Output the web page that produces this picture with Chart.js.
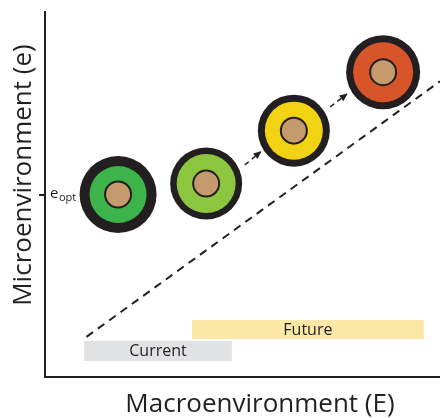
<!DOCTYPE html>
<html>
<head>
<meta charset="utf-8">
<script src="https://cdn.jsdelivr.net/npm/chart.js@4.4.1/dist/chart.umd.min.js"></script>
<style>
  body { margin: 0; background: #fff; }
</style>
</head>
<body>
<canvas id="nicheChart" width="440" height="418"></canvas>
<script>
// Position of the organism in macro (E) vs micro (e) environment space
const stageX = [1.85, 4.08, 6.30, 8.56];
const stageY = [5.0, 5.30, 6.75, 8.35];
const stageColors = ['#3cb44b', '#8cc63f', '#f2d314', '#d8552a'];

// optimum microenvironment, the only tick on the y axis
const eOpt = 5.0;

// dashed e = E style reference line
const refX = [1.05, 10];
const refY = [1.1, 8.1];

// small arrows between the circles
const arrowAX = [5.06, 5.46];
const arrowAY = [5.81, 6.17];
const arrowBX = [7.22, 7.64];
const arrowBY = [7.40, 7.75];

// current and future ranges of the macroenvironment
const rangeNames = ['Current', 'Future'];
const rangeFrom = [0.99, 3.72];
const rangeTo = [4.73, 9.59];
const rangeLow = [0.44, 1.04];
const rangeHigh = [0.99, 1.56];

const ink = '#231f20';
const font = '"Open Sans", sans-serif';
const rangeColors = ['#e1e2e4', '#fce8a6'];

function pts(xs, ys) {
    return xs.map((v, i) => ({ x: v, y: ys[i] }));
}

// draws the range boxes, arrow heads and the axis titles
const extras = {
    id: 'extras',
    beforeDatasetsDraw(chart) {
        const ctx = chart.ctx;
        const x = chart.scales.x, y = chart.scales.y;
        rangeNames.forEach((name, i) => {
            const x0 = x.getPixelForValue(rangeFrom[i]);
            const x1 = x.getPixelForValue(rangeTo[i]);
            const y0 = y.getPixelForValue(rangeHigh[i]);
            const y1 = y.getPixelForValue(rangeLow[i]);
            ctx.save();
            ctx.fillStyle = rangeColors[i];
            ctx.fillRect(x0, y0, x1 - x0, y1 - y0);
            ctx.fillStyle = ink;
            ctx.font = '16px ' + font;
            ctx.textAlign = 'center';
            ctx.textBaseline = 'middle';
            ctx.fillText(name, (x0 + x1) / 2, (y0 + y1) / 2 + 1);
            ctx.restore();
        });
    },
    afterDatasetsDraw(chart) {
        const ctx = chart.ctx;
        chart.data.datasets.forEach((ds, i) => {
            if (!ds.arrow) return;
            const p = chart.getDatasetMeta(i).data;
            const a = p[p.length - 2], b = p[p.length - 1];
            const ang = Math.atan2(b.y - a.y, b.x - a.x);
            ctx.save();
            ctx.translate(b.x, b.y);
            ctx.rotate(ang);
            ctx.fillStyle = ink;
            ctx.beginPath();
            ctx.moveTo(1, 0);
            ctx.lineTo(-7, -3.5);
            ctx.lineTo(-7, 3.5);
            ctx.closePath();
            ctx.fill();
            ctx.restore();
        });
    },
    afterDraw(chart) {
        const ctx = chart.ctx;
        const y = chart.scales.y;
        ctx.save();
        ctx.fillStyle = ink;
        ctx.textBaseline = 'alphabetic';
        // e_opt label next to its tick
        const ty = y.getPixelForValue(eOpt);
        ctx.textAlign = 'left';
        ctx.font = '15px ' + font;
        ctx.fillText('e', 50, ty + 3);
        ctx.font = '11px ' + font;
        ctx.fillText('opt', 59, ty + 6);
        // axis titles
        ctx.font = '26px ' + font;
        ctx.textAlign = 'center';
        ctx.fillText('Macroenvironment (E)', 260, 412);
        ctx.translate(31, 175);
        ctx.rotate(-Math.PI / 2);
        ctx.fillText('Microenvironment (e)', 0, 0);
        ctx.restore();
    }
};

const ctx = document.getElementById('nicheChart').getContext('2d');
const myChart = new Chart(ctx, {
    type: 'scatter',
    data: {
        datasets: [
            {
                data: pts(refX, refY),
                showLine: true,
                borderColor: ink,
                borderWidth: 2,
                borderDash: [8, 6],
                pointRadius: 0,
                order: 5
            },
            {
                data: pts(arrowAX, arrowAY),
                showLine: true,
                arrow: true,
                borderColor: ink,
                borderWidth: 1.5,
                borderDash: [5, 4],
                pointRadius: 0,
                order: 4
            },
            {
                data: pts(arrowBX, arrowBY),
                showLine: true,
                arrow: true,
                borderColor: ink,
                borderWidth: 1.5,
                borderDash: [5, 4],
                pointRadius: 0,
                order: 4
            },
            {
                // black outer ring
                data: pts(stageX, stageY),
                pointRadius: [38.5, 36, 36, 37],
                pointBackgroundColor: ink,
                pointBorderWidth: 0,
                order: 3
            },
            {
                // coloured ring
                data: pts(stageX, stageY),
                pointRadius: [28.5, 29.5, 29, 30],
                pointBackgroundColor: stageColors,
                pointBorderWidth: 0,
                order: 2
            },
            {
                // tan core
                data: pts(stageX, stageY),
                pointRadius: 13,
                pointBackgroundColor: '#c59b6d',
                pointBorderColor: ink,
                pointBorderWidth: 2,
                order: 1
            }
        ]
    },
    options: {
        responsive: false,
        animation: false,
        events: [],
        layout: { autoPadding: false, padding: { top: 12, left: 0, right: 0, bottom: 0 } },
        plugins: {
            legend: { display: false },
            tooltip: { enabled: false }
        },
        scales: {
            x: {
                min: 0,
                max: 10,
                ticks: { display: false },
                grid: { display: false },
                border: { display: true, color: ink, width: 2 },
                afterFit: s => { s.height = 41; }
            },
            y: {
                min: 0,
                max: 10,
                ticks: { display: false },
                afterBuildTicks: s => { s.ticks = [{ value: eOpt }]; },
                grid: {
                    display: true,
                    drawOnChartArea: false,
                    drawTicks: true,
                    tickLength: 6,
                    color: ink,
                    lineWidth: 2
                },
                border: { display: true, color: ink, width: 2 },
                afterFit: s => { s.width = 45; }
            }
        }
    },
    plugins: [extras]
});
</script>
</body>
</html>
